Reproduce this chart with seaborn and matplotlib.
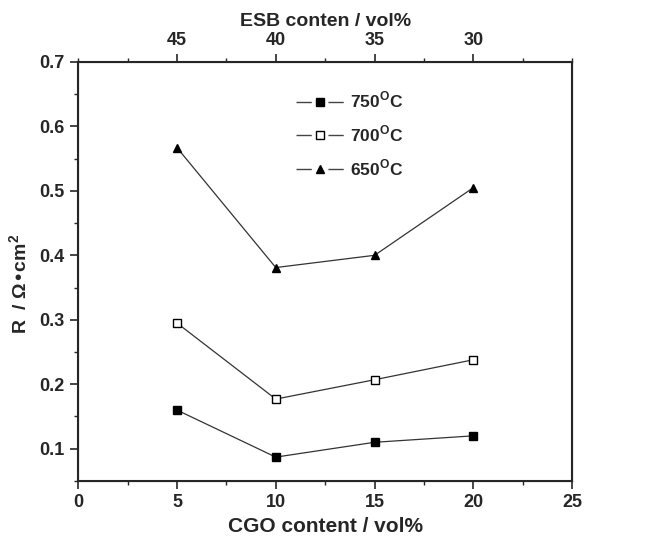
import matplotlib
matplotlib.use("Agg")
import matplotlib.pyplot as plt
import numpy as np
import pandas as pd
import seaborn as sns
from matplotlib.lines import Line2D
from matplotlib.ticker import MultipleLocator

# data
cgo = [5, 10, 15, 20]
r_750 = [0.160, 0.087, 0.110, 0.120]
r_700 = [0.295, 0.177, 0.207, 0.238]
r_650 = [0.567, 0.381, 0.400, 0.505]
esb_ticks = [45, 40, 35, 30]

sns.set_style("ticks")
plt.rcParams["font.family"] = ["Liberation Sans", "DejaVu Sans"]
plt.rcParams["font.weight"] = "bold"

fig = plt.figure(figsize=(6.51, 5.38), dpi=100)
ax = fig.add_axes([0.12, 0.106, 0.759, 0.779])

series = [
    ("750$^\\mathregular{O}$C", r_750, "s", "black"),
    ("700$^\\mathregular{O}$C", r_700, "s", "white"),
    ("650$^\\mathregular{O}$C", r_650, "^", "black"),
]
handles = []
for label, vals, mk, fc in series:
    df = pd.DataFrame({"cgo": cgo, "r": vals})
    sns.lineplot(data=df, x="cgo", y="r", ax=ax, color="#333333", lw=0.9,
                 marker=mk, markersize=6, markerfacecolor=fc,
                 markeredgecolor="black", markeredgewidth=1.0, legend=False)
    # origin-style legend handle: line - marker - line with gaps
    handles.append(Line2D([], [], color="#444444", lw=1.0,
                          linestyle=(0, (11, 12, 11, 50)),
                          marker=mk, markersize=5.5, markerfacecolor=fc,
                          markeredgecolor="black", markeredgewidth=1.0,
                          label=label))

ax.set_xlim(0, 25)
ax.set_ylim(0.05, 0.7)
ax.xaxis.set_major_locator(MultipleLocator(5))
ax.xaxis.set_minor_locator(MultipleLocator(2.5))
ax.yaxis.set_minor_locator(MultipleLocator(0.05))
ax.set_yticks(np.arange(0.1, 0.71, 0.1))
ax.tick_params(which="major", direction="out", length=6, width=1.2, labelsize=13)
ax.tick_params(which="minor", direction="out", length=3, width=1.0)
for sp in ax.spines.values():
    sp.set_linewidth(1.5)
    sp.set_visible(True)

ax.set_xlabel("CGO content / vol%", fontsize=15, fontweight="bold", labelpad=4)
ax.set_ylabel("R  / \u03a9\u2022cm$^\\mathregular{2}$", fontsize=14, fontweight="bold",
              labelpad=8)
ax.yaxis.set_label_coords(-0.095, 0.47)

top = ax.twiny()
top.set_xlim(ax.get_xlim())
top.set_xticks(cgo)
top.set_xticklabels([str(v) for v in esb_ticks])
top.xaxis.set_minor_locator(MultipleLocator(2.5))
top.tick_params(which="major", direction="out", length=6, width=1.2, labelsize=13)
top.tick_params(which="minor", direction="out", length=3, width=1.0)
top.set_xlabel("ESB conten / vol%", fontsize=14, fontweight="bold", labelpad=4)

ax.legend(handles=handles, loc="upper left", bbox_to_anchor=(0.41, 0.97),
          frameon=False, fontsize=12.5, handlelength=2.72, handletextpad=0.35,
          labelspacing=0.75)

fig.savefig("out.png", dpi=100)
